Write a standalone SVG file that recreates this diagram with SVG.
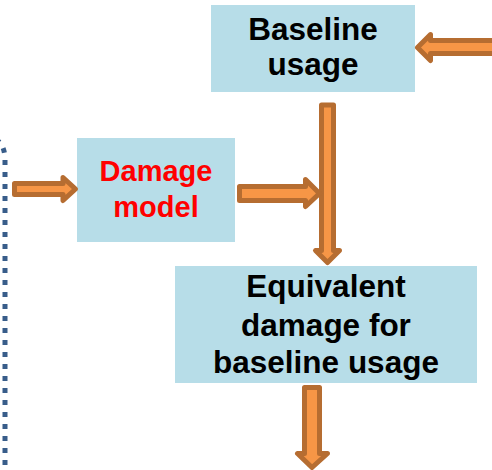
<svg xmlns="http://www.w3.org/2000/svg" width="492" height="470" viewBox="0 0 492 470">
<style>
.box{fill:#b7dde8;}
.t{font-family:"Liberation Sans",Arial,sans-serif;font-weight:bold;font-size:31.5px;text-anchor:middle;fill:#000;}
.red{fill:#ff0000;font-size:29px;}
.arr{fill:#f79646;stroke:#b66d31;stroke-width:5;stroke-linejoin:round;}
.dot{fill:none;stroke:#385d8a;stroke-width:5;stroke-dasharray:5 7;}
</style>
<rect width="492" height="470" fill="#fff"/>
<path class="dot" d="M -40 136 L -18 136 Q 5 136 5 160 L 5 475"/>
<g id="baseline-usage">
<rect class="box" x="211" y="5" width="204" height="87"/>
<text class="t" x="313" y="40">Baseline</text>
<text class="t" x="313" y="75">usage</text>
</g>
<g id="damage-model">
<rect class="box" x="77" y="138" width="158" height="104"/>
<text class="t red" x="156" y="181">Damage</text>
<text class="t red" x="156" y="217">model</text>
</g>
<g id="equivalent-damage">
<rect class="box" x="175" y="266" width="302" height="117"/>
<text class="t" x="326" y="297">Equivalent</text>
<text class="t" x="326" y="336">damage for</text>
<text class="t" x="326" y="373">baseline usage</text>
</g>
<g id="connectors">
<polygon class="arr" points="500,40.5 430.5,40.5 430.5,34.5 417.5,47.5 430.5,60.5 430.5,53.5 500,53.5"/>
<polygon class="arr" points="321.5,105 333.5,105 333.5,250.5 339.5,250.5 327.5,262.5 315.5,250.5 321.5,250.5"/>
<polygon class="arr" points="14.5,183.5 63,183.5 63,177.5 75.5,189 63,200.5 63,194.5 14.5,194.5"/>
<polygon class="arr" points="239.5,186.5 305.5,186.5 305.5,179.5 319.5,193.5 305.5,206.5 305.5,200.5 239.5,200.5"/>
<polygon class="arr" points="304.5,387.5 319.5,387.5 319.5,453.5 327.5,453.5 312,467.5 297.5,453.5 304.5,453.5"/>
</g>
</svg>
